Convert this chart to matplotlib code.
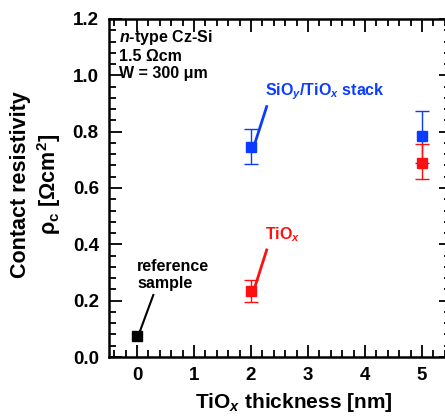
import matplotlib
matplotlib.use("Agg")
import matplotlib.pyplot as plt
from matplotlib.ticker import MultipleLocator

plt.rcParams['font.family'] = ['Liberation Sans', 'DejaVu Sans']
plt.rcParams['font.weight'] = 'bold'
plt.rcParams['axes.labelweight'] = 'bold'
plt.rcParams['mathtext.fontset'] = 'custom'
plt.rcParams['mathtext.rm'] = 'Liberation Sans:bold'
plt.rcParams['mathtext.bf'] = 'Liberation Sans:bold'
plt.rcParams['mathtext.it'] = 'Liberation Sans:italic:bold'
plt.rcParams['mathtext.default'] = 'bf'

# data
ref_x = [0]
ref_y = [0.076]

tiox_x = [2, 5]
tiox_y = [0.236, 0.690]
tiox_lo = [0.195, 0.631]
tiox_hi = [0.274, 0.756]

stack_x = [2, 5]
stack_y = [0.747, 0.785]
stack_lo = [0.685, 0.690]
stack_hi = [0.809, 0.874]

blue = '#0a3cff'
red = '#ff1010'

fig = plt.figure(figsize=(4.45, 4.16), dpi=100)
ax = fig.add_axes([108.5 / 445, 59 / 416, 342 / 445, 338 / 416])


def errs(y, lo, hi):
    return [[a - b for a, b in zip(y, lo)], [c - a for a, c in zip(y, hi)]]


ax.errorbar(stack_x, stack_y, yerr=errs(stack_y, stack_lo, stack_hi), fmt='s',
            color=blue, ms=7.5, elinewidth=1, capsize=5, capthick=1, zorder=3)
ax.errorbar(tiox_x, tiox_y, yerr=errs(tiox_y, tiox_lo, tiox_hi), fmt='s',
            color=red, ms=7.5, elinewidth=1, capsize=5, capthick=1, zorder=3)
ax.plot(ref_x, ref_y, 's', color='black', ms=7.5, zorder=3)

# labels with pointer lines
ax.plot([2.07, 2.275], [0.76, 0.889], color=blue, lw=2)
ax.text(2.25, 0.943, 'SiO$_\\mathit{y}$/TiO$_\\mathit{x}$ stack', color=blue,
        fontsize=11.5, va='center', ha='left')
ax.plot([2.07, 2.275], [0.25, 0.38], color=red, lw=2)
ax.text(2.25, 0.433, 'TiO$_\\mathit{x}$', color=red, fontsize=11.5, va='center', ha='left')
ax.plot([0.04, 0.286], [0.085, 0.22], color='black', lw=1.5)
ax.text(0.005, 0.292, 'reference\nsample', color='black', fontsize=11.5,
        va='center', ha='left', linespacing=1.15)

ax.text(-0.31, 1.075, '$\\mathit{n}$-type Cz-Si\n1.5 Ωcm\nW = 300 μm', fontsize=11.5,
        va='center', ha='left', linespacing=1.15)

ax.set_xlim(-0.5, 5.5)
ax.set_ylim(0, 1.2)
ax.xaxis.set_major_locator(MultipleLocator(1))
ax.xaxis.set_minor_locator(MultipleLocator(0.2))
ax.yaxis.set_major_locator(MultipleLocator(0.2))
ax.yaxis.set_minor_locator(MultipleLocator(0.04))
ax.set_xticks([0, 1, 2, 3, 4, 5])
ax.set_yticklabels([f'{v:.1f}' for v in ax.get_yticks()])
ax.tick_params(which='both', direction='in', top=True, right=True, width=1.3,
               labelsize=13.5, pad=7)
ax.tick_params(which='major', length=9)
ax.tick_params(which='minor', length=5)
for s in ax.spines.values():
    s.set_linewidth(1.8)

ax.set_xlabel('TiO$_\\mathit{x}$ thickness [nm]', fontsize=15)
ax.xaxis.set_label_coords(0.542, -0.1)
ax.set_ylabel('Contact resistivity\nρ$_\\mathregular{c}$ [Ωcm$^\\mathregular{2}$]', fontsize=15.5,
              linespacing=1.2)
ax.yaxis.set_label_coords(-0.133, 0.51)

fig.savefig('out.png', dpi=100)
